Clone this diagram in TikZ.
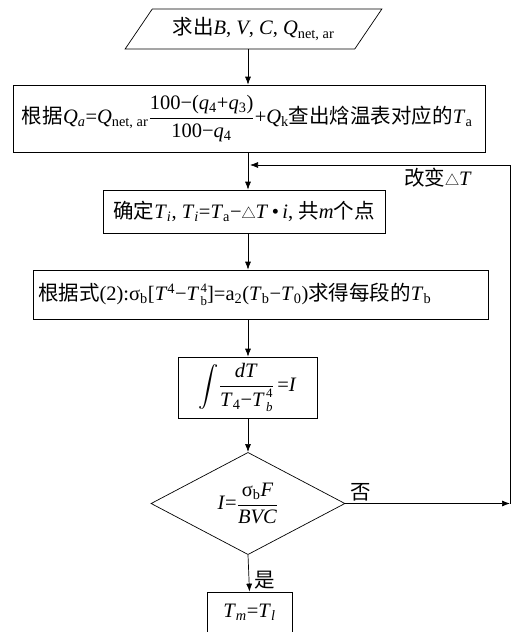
\documentclass[tikz,border=0pt]{standalone}
\usepackage{fontspec}
\usepackage{amsmath}
\setmainfont{Liberation Serif}
\newfontfamily\cjk{Noto Sans CJK SC}
\usetikzlibrary{arrows.meta,shapes.geometric,calc}
\newlength\pxu
\setlength\pxu{0.03cm}
\newcommand\sbsp[2]{\kern1.2pt\rlap{\raisebox{-0.5ex}{\fontsize{11}{11}\selectfont #1}}\raisebox{0.9ex}{\fontsize{11}{11}\selectfont #2}}
\newcommand\tri{{\cjk\fontsize{12}{12}\selectfont △}}
\begin{document}
\begin{tikzpicture}[x=0.03cm,y=-0.03cm,
  every node/.style={font=\fontsize{17.5}{20}\selectfont, inner sep=0pt},
  box/.style={draw, line width=0.6pt},
  arr/.style={-{Latex[length=2.4mm,width=1.8mm]}, line width=0.6pt}]
\useasboundingbox (0,0) rectangle (513,632);
\clip (0,0) rectangle (513,632);

\node[box, trapezium, trapezium left angle=46, trapezium right angle=134,
  trapezium stretches=true, minimum width=257\pxu, minimum height=40\pxu]
  (input) at (253.5,29) {{\cjk 求出}\textit{B}, \textit{V}, \textit{C}, \textit{Q}\textsubscript{net, ar}};

\node[box, minimum width=472\pxu, minimum height=67\pxu]
  (b2) at (249,118.5) {\makebox[454\pxu][l]{{\cjk 根据}\textit{Q}\textsubscript{\textit{a}}=\textit{Q}\textsubscript{net, ar}$\dfrac{\text{100−(\textit{q}\textsubscript{4}+\textit{q}\textsubscript{3})}}{\text{100−\textit{q}\textsubscript{4}}}$+\textit{Q}\textsubscript{k}{\cjk 查出焓温表对应的}\textit{T}\textsubscript{a}}};

\node[box, minimum width=282\pxu, minimum height=43\pxu]
  (b3) at (244,211.5) {{\cjk 确定}\textit{T}\textsubscript{\textit{i}}, \textit{T}\textsubscript{\textit{i}}=\textit{T}\textsubscript{a}−\tri\textit{T}\,•\,\textit{i}, {\cjk 共}\textit{m}{\cjk 个点}};

\node[box, minimum width=455\pxu, minimum height=49\pxu]
  (b4) at (260.5,294.5) {\makebox[445\pxu][l]{{\cjk 根据式}(2):σ\textsubscript{b}[\textit{T}\textsuperscript{4}−\textit{T}\sbsp{b}{4}]=a\textsubscript{2}(\textit{T}\textsubscript{b}−\textit{T}\textsubscript{0}){\cjk 求得每段的}\textit{T}\textsubscript{b}}};

\node[box, minimum width=139\pxu, minimum height=61\pxu]
  (b5) at (247.5,387.5) {$\displaystyle\int\!\frac{\text{\textit{dT}}}{\text{\textit{T}\textsubscript{4}−\textit{T}\sbsp{\textit{b}}{4}}}\,$=\textit{I}};

\node[box, diamond, minimum width=194\pxu, minimum height=97\pxu]
  (d) at (248,503.5) {\textit{I}=$\dfrac{\text{σ\textsubscript{b}\textit{F}}}{\text{\textit{BVC}}}$};

\node[box, minimum width=85\pxu, minimum height=41\pxu]
  (f) at (249.5,612.5) {\textit{T}\textsubscript{\textit{m}}=\textit{T}\textsubscript{\textit{l}}};

\coordinate (sp) at (248,0);
\coordinate (fr) at (510,165);
\coordinate (fl) at (250,165);

\draw[arr] (input.south -| sp) -- (b2.north -| sp);
\draw[arr] (b2.south -| sp) -- (b3.north -| sp);
\draw[arr] (b3.south -| sp) -- (b4.north -| sp);
\draw[arr] (b4.south -| sp) -- (b5.north -| sp);
\draw[arr] (b5.south -| sp) -- (d.north);
\draw[arr] (d.south) -- (f.north);
\draw[arr] (d.east) -- (d.east -| fr);
\draw[arr] (d.east -| fr) -- (fr) -- (fl);

\node (lbl) at (438,178) {{\cjk 改变}\tri\textit{T}};
\node (no) at (361,492) {\cjk 否};
\node (yes) at (265,580) {\cjk 是};
\end{tikzpicture}
\end{document}
